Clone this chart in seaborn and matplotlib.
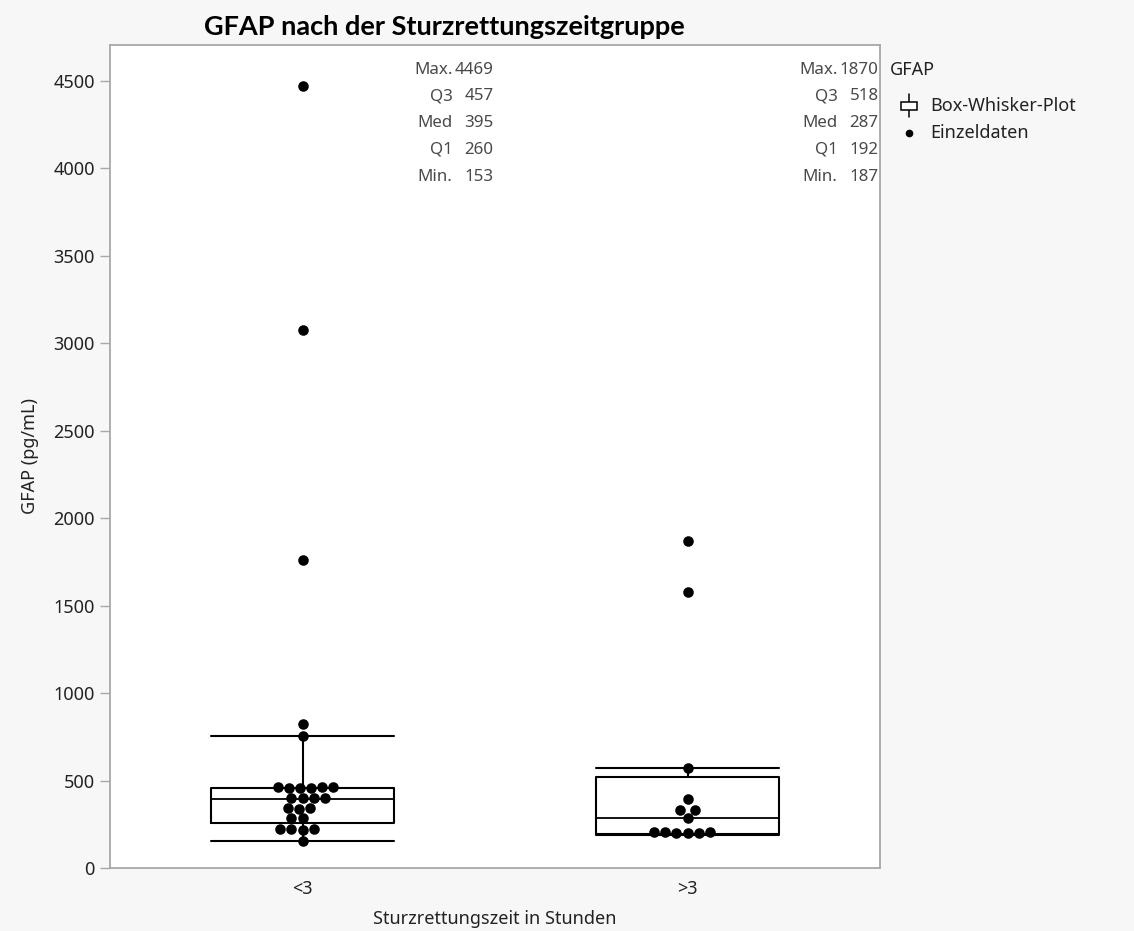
import matplotlib
matplotlib.use("Agg")
import matplotlib.pyplot as plt
from matplotlib.patches import Rectangle
from matplotlib.lines import Line2D
from matplotlib import transforms
import seaborn as sns
import pandas as pd

# ---- data -------------------------------------------------------------
groups = ["<3", ">3"]

gfap_lt3 = [153, 220, 221, 222, 223, 283, 285, 340, 341, 342,
            399, 400, 401, 402, 458, 459, 460, 461, 462, 463,
            752, 822, 1760, 3075, 4469]
gfap_gt3 = [200, 201, 202, 203, 204, 205, 287, 332, 333, 393,
            572, 1580, 1870]

# summary statistics shown next to each group
stat_max = [4469, 1870]
stat_q3 = [457, 518]
stat_med = [395, 287]
stat_q1 = [260, 192]
stat_min = [153, 187]
whisker_hi = [752, 572]

y_ticks = list(range(0, 5000, 500))

df = pd.DataFrame({
    "Gruppe": [groups[0]] * len(gfap_lt3) + [groups[1]] * len(gfap_gt3),
    "GFAP": gfap_lt3 + gfap_gt3,
})

# ---- style ------------------------------------------------------------
sns.set_style("white")
plt.rcParams["font.family"] = ["Noto Sans", "DejaVu Sans"]

W, H = 1134, 931
fig = plt.figure(figsize=(W / 100, H / 100), dpi=100)
fig.patch.set_facecolor("#f7f7f7")
ax = fig.add_axes([110 / W, (H - 868) / H, 770 / W, 823 / H])
ax.set_facecolor("white")

# box-whisker from the summary statistics
box_stats = []
for i in range(len(groups)):
    box_stats.append(dict(med=stat_med[i], q1=stat_q1[i], q3=stat_q3[i],
                          whislo=stat_min[i], whishi=whisker_hi[i],
                          fliers=[], label=groups[i]))
line_kw = dict(color="black", linewidth=1.5)
ax.bxp(box_stats, positions=[0, 1], widths=0.475, capwidths=0.475,
       showfliers=False, manage_ticks=False,
       boxprops=line_kw, whiskerprops=line_kw, capprops=line_kw,
       medianprops=dict(color="black", linewidth=1.3), zorder=2)

# individual values as a beeswarm
sns.swarmplot(data=df, x="Gruppe", y="GFAP", order=groups, color="black",
              size=7.6, linewidth=0, ax=ax, zorder=3)

ax.set_xlim(-0.5, 1.5)
ax.set_ylim(0, 4705)
ax.set_yticks(y_ticks)
ax.set_yticklabels([str(t) for t in y_ticks])

for s in ax.spines.values():
    s.set_visible(True)
    s.set_color("#a8a8a8")
    s.set_linewidth(1.3)

ax.tick_params(axis="y", direction="out", length=7, width=1, color="#a8a8a8",
               labelsize=13, labelcolor="#222222", pad=4, left=True)
ax.tick_params(axis="x", length=0, labelsize=13, labelcolor="#222222", pad=9)
ax.set_xlabel("Sturzrettungszeit in Stunden", fontsize=13, color="#222222",
              labelpad=8)
ax.set_ylabel("GFAP (pg/mL)", fontsize=13, color="#222222", labelpad=10)

fig.text(444 / W, 1 - 27 / H, "GFAP nach der Sturzrettungszeitgruppe",
         ha="center", va="center", fontsize=19.5, fontweight="bold",
         family=["Lato", "DejaVu Sans"], color="black")

# summary text blocks, right-aligned at the edge of each group slot
trans = transforms.blended_transform_factory(ax.transData, fig.transFigure)
row_y = [70, 96.5, 123, 150, 177]
names = ["Max.", "Q3", "Med", "Q1", "Min."]
txt_color = "#4a4a4a"
for i in range(len(groups)):
    values = [stat_max[i], stat_q3[i], stat_med[i], stat_q1[i], stat_min[i]]
    for name, val, py in zip(names, values, row_y):
        y = 1 - py / H
        ax.annotate(str(val), xy=(i + 0.5, y), xycoords=trans,
                    xytext=(-1, 0), textcoords="offset points",
                    ha="right", va="center", fontsize=12.2, color=txt_color,
                    annotation_clip=False)
        ax.annotate(name, xy=(i + 0.5, y), xycoords=trans,
                    xytext=(-30.5, 0), textcoords="offset points",
                    ha="right", va="center", fontsize=12.2, color=txt_color,
                    annotation_clip=False)

# legend
fig.text(890 / W, 1 - 70 / H, "GFAP", ha="left", va="center", fontsize=13,
         color="#222222")
fig.add_artist(Line2D([909 / W, 909 / W], [1 - 94 / H, 1 - 117 / H],
                      transform=fig.transFigure, color="black", lw=1.1))
fig.add_artist(Rectangle((901 / W, 1 - 110 / H), 16 / W, 8 / H,
                         transform=fig.transFigure, facecolor="white",
                         edgecolor="black", lw=1.1, zorder=3))
fig.text(930 / W, 1 - 106 / H, "Box-Whisker-Plot", ha="left", va="center",
         fontsize=13, color="#222222")
fig.add_artist(Line2D([909 / W], [1 - 133 / H], transform=fig.transFigure,
                      marker="o", markersize=4.5, color="black", lw=0))
fig.text(930 / W, 1 - 133 / H, "Einzeldaten", ha="left", va="center",
         fontsize=13, color="#222222")

fig.savefig("out.png", dpi=100, facecolor=fig.get_facecolor())
